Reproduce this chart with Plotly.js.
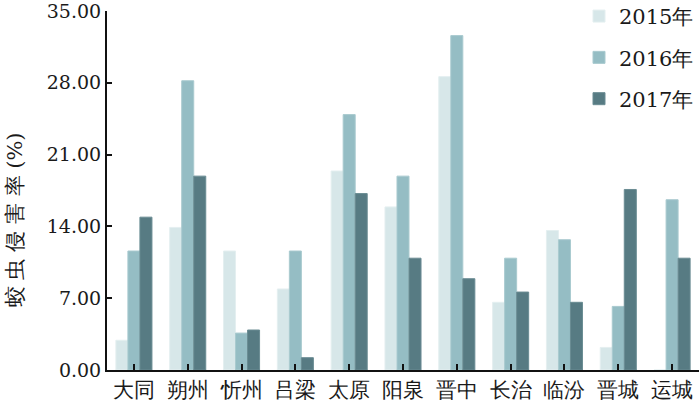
<!DOCTYPE html>
<html>
<head>
<meta charset="utf-8">
<script src="https://cdn.plot.ly/plotly-3.0.1.min.js"></script>
<style>
  body { margin: 0; background: #fff; }
  #chart { width: 700px; height: 402px; }
</style>
</head>
<body>
<div id="chart"></div>
<script>
// cities along the x axis
const cities = ['大同', '朔州', '忻州', '吕梁', '太原', '阳泉', '晋中', '长治', '临汾', '晋城', '运城'];

// infestation rate (%) per year
const rate2015 = [2.9, 13.9, 11.6, 7.9, 19.4, 15.9, 28.6, 6.6, 13.6, 2.2, 0];
const rate2016 = [11.6, 28.2, 3.6, 11.6, 24.9, 18.9, 32.6, 10.9, 12.7, 6.2, 16.6];
const rate2017 = [14.9, 18.9, 3.9, 1.2, 17.2, 10.9, 8.9, 7.6, 6.6, 17.6, 10.9];

const yTicks = [0, 7, 14, 21, 28, 35];
const yTickText = yTicks.map(v => v.toFixed(2));

const seriesNames = ['2015年', '2016年', '2017年'];

let serif = 'DejaVu Serif, Liberation Serif, serif';
let axisCol = '#111';

function barTrace(name, vals, fill, edge) {
    return {
        x: cities,
        y: vals,
        name: name,
        legendgroup: name,
        type: 'bar',
        marker: { color: fill, line: { color: edge, width: 1 } },
        hoverinfo: 'x+y'
    };
}

const traces = [
    barTrace(seriesNames[0], rate2015, '#d7e7e9', '#e4eff0'),
    barTrace(seriesNames[1], rate2016, '#95bdc4', '#a9cacf'),
    barTrace(seriesNames[2], rate2017, '#577b83', '#6a8c93')
];

const layout = {
    width: 700,
    height: 402,
    margin: { l: 107, r: 1, t: 11, b: 32, autoexpand: false },
    paper_bgcolor: '#fff',
    plot_bgcolor: '#fff',
    barmode: 'group',
    bargap: 0.33,
    bargroupgap: 0,
    font: { family: serif, color: '#1a1a1a', size: 19 },
    xaxis: {
        type: 'category',
        range: [-0.5, 10.5],
        showline: true,
        linecolor: axisCol,
        linewidth: 2,
        ticks: 'inside',
        ticklen: 6,
        tickwidth: 2,
        tickcolor: axisCol,
        showgrid: false,
        zeroline: false,
        ticklabeloverflow: 'allow',
        tickfont: { family: serif, size: 21, color: '#1a1a1a' }
    },
    yaxis: {
        range: [0, 35],
        tickvals: yTicks,
        ticktext: yTickText,
        showline: true,
        linecolor: axisCol,
        linewidth: 2,
        ticks: 'inside',
        ticklen: 5,
        tickwidth: 2,
        tickcolor: axisCol,
        showgrid: false,
        zeroline: false,
        ticklabeloverflow: 'allow',
        tickfont: { family: serif, size: 19, color: '#1a1a1a' }
    },
    showlegend: true,
    legend: {
        x: 1,
        xanchor: 'right',
        y: 1.042,
        yanchor: 'top',
        bgcolor: 'rgba(0,0,0,0)',
        traceorder: 'grouped',
        tracegroupgap: 11,
        itemwidth: 30,
        font: { family: serif, size: 21, color: '#1a1a1a' }
    },
    annotations: [{
        text: '蛟 虫 侵 害 率 (%)',
        xref: 'paper',
        yref: 'paper',
        x: -0.155,
        y: 0.418,
        xanchor: 'center',
        yanchor: 'middle',
        textangle: -90,
        showarrow: false,
        font: { family: serif, size: 21, color: '#1a1a1a' }
    }]
};

Plotly.newPlot('chart', traces, layout, { displayModeBar: false, staticPlot: true });
</script>
</body>
</html>
